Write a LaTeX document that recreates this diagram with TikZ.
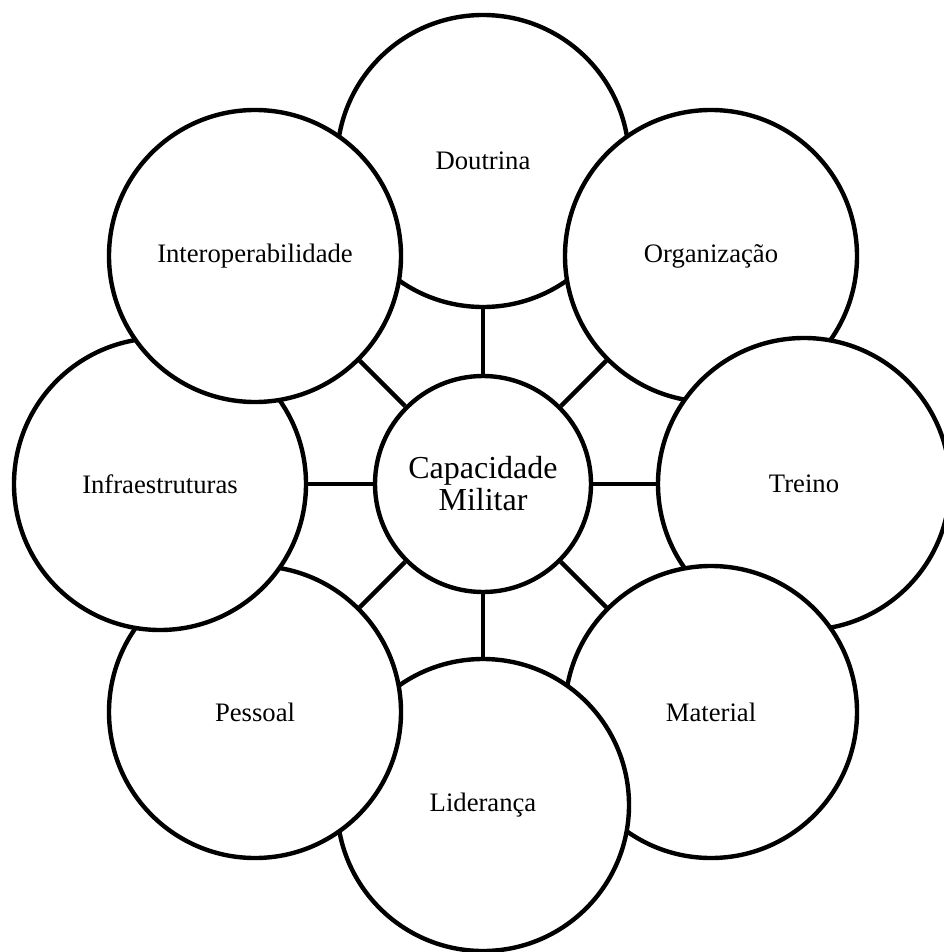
\documentclass[tikz,border=0pt]{standalone}
\usepackage{fontspec}
\setmainfont{Liberation Serif}
\usetikzlibrary{calc}
\begin{document}
\begin{tikzpicture}[x=0.75pt,y=-0.75pt,
  outer/.style={circle,draw=black,fill=white,line width=3.3pt,minimum size=292*0.75pt,inner sep=0pt,font=\fontsize{20}{24}\selectfont},
  hub/.style={circle,draw=black,fill=white,line width=3.3pt,minimum size=216*0.75pt,inner sep=0pt,align=center,font=\fontsize{24}{24}\selectfont},
  spoke/.style={draw=black,line width=3.3pt}]
\clip (0,0) rectangle (944,952);
\fill[white] (0,0) rectangle (944,952);
\coordinate (C) at (483,484);
\node[hub] (cap) at (C) {Capacidade\\Militar};
\node[outer] (dou) at ($(C)+(0,-323)$) {Doutrina};
\node[outer] (org) at ($(C)+(228,-228)$) {Organização};
\node[outer] (tre) at ($(C)+(321,0)$) {Treino};
\node[outer] (mat) at ($(C)+(228,228)$) {Material};
\node[outer] (lid) at ($(C)+(0,321)$) {Liderança};
\node[outer] (pes) at ($(C)+(-228,228)$) {Pessoal};
\node[outer] (inf) at ($(C)+(-323,0)$) {Infraestruturas};
\node[outer] (int) at ($(C)+(-228,-228)$) {Interoperabilidade};
\foreach \n in {dou,org,tre,mat,lid,pes,inf,int}{\draw[spoke] (cap) -- (\n);}
\end{tikzpicture}
\end{document}
